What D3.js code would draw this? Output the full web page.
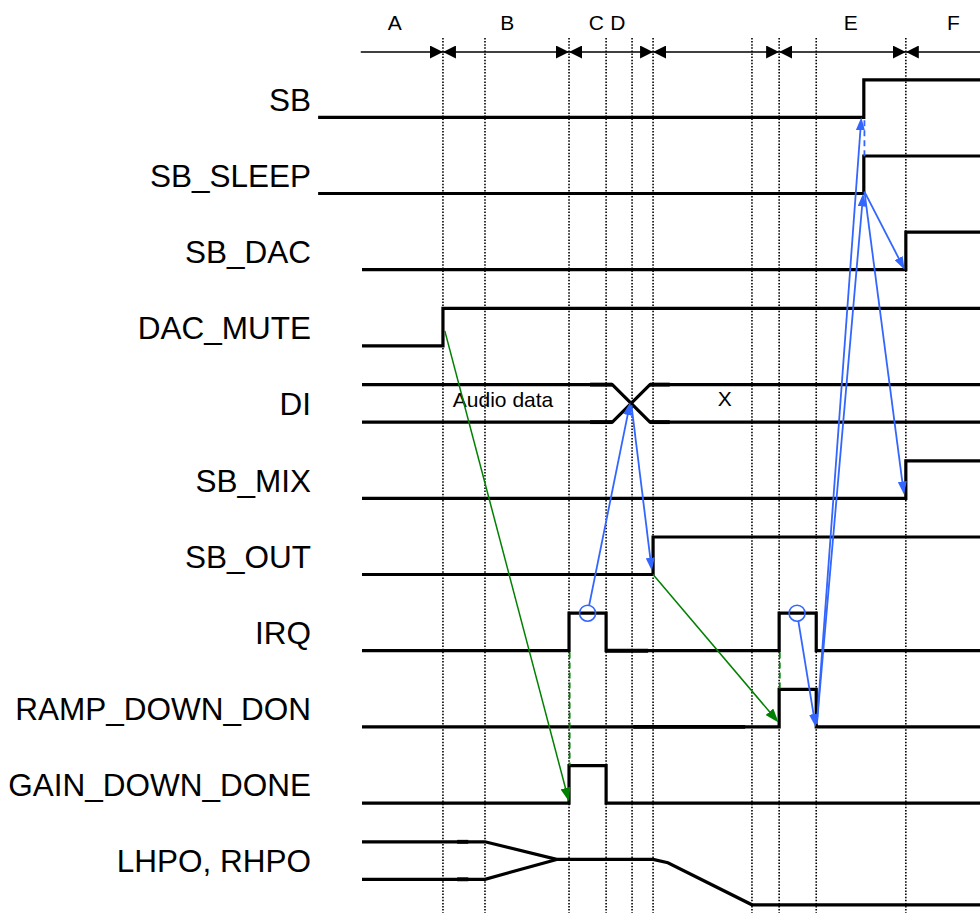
<!DOCTYPE html>
<html><head><meta charset="utf-8">
<script src="https://cdn.jsdelivr.net/npm/d3@7/dist/d3.min.js"></script>
<style>body{margin:0;background:#fff}svg{display:block}</style>
</head><body>
<svg id="c" width="980" height="913"></svg>
<script>
// ---------- data ----------
const signalNames = ["SB","SB_SLEEP","SB_DAC","DAC_MUTE","DI","SB_MIX","SB_OUT","IRQ","RAMP_DOWN_DON","GAIN_DOWN_DONE","LHPO, RHPO"];
// event boundaries (time units) for dotted guides
const edgeTimes = [13.1, 19.9, 33.5, 39.5, 43.7, 47.1, 63.1, 67.5, 73.5, 88.0];
// phase labels at the top
const phaseLabels = ["A","B","C","D","E","F"];
const phaseLabelTimes = [5.3, 23.5, 37.9, 41.4, 79.1, 95.7];
// phase arrows [from, to, headAtStart, headAtEnd]
const phaseSpans = [[-0.2,13.1,0,1],[13.1,33.5,1,1],[33.5,47.1,1,1],[47.1,67.5,1,1],[67.5,88.0,1,1],[88.0,100,1,0]];
// waveforms: [t, level] (level 0 = low, 1 = high)
const waveSB       = [[-7.1,0],[81.2,0],[81.2,1],[100,1]];
const waveSBSleep  = [[-7.1,0],[81.2,0],[81.2,1],[100,1]];
const waveSBDac    = [[0,0],[88.0,0],[88.0,1],[100,1]];
const waveDacMute  = [[0,0],[13.1,0],[13.1,1],[100,1]];
const waveDIa      = [[0,1],[40.5,1],[46.6,0],[100,0]];
const waveDIb      = [[0,0],[40.5,0],[46.6,1],[100,1]];
const waveSBMix    = [[0,0],[88.0,0],[88.0,1],[100,1]];
const waveSBOut    = [[0,0],[47.1,0],[47.1,1],[100,1]];
const waveIRQ      = [[0,0],[33.5,0],[33.5,1],[39.5,1],[39.5,0],[67.5,0],[67.5,1],[73.5,1],[73.5,0],[100,0]];
const waveRamp     = [[0,0],[67.5,0],[67.5,1],[73.5,1],[73.5,0],[100,0]];
const waveGain     = [[0,0],[33.5,0],[33.5,1],[39.5,1],[39.5,0],[100,0]];
const waveHPa      = [[0,1],[19.9,1],[31.5,0.53],[47.1,0.53],[49.5,0.44],[63.1,-0.68],[100,-0.68]];
const waveHPb      = [[0,0],[19.9,0],[31.5,0.53]];
const waves = [[0,waveSB],[1,waveSBSleep],[2,waveSBDac],[3,waveDacMute],[4,waveDIa],[4,waveDIb],
               [5,waveSBMix],[6,waveSBOut],[7,waveIRQ],[8,waveRamp],[9,waveGain],[10,waveHPa],[10,waveHPb]];
// overdrawn (slightly heavier) segments: [signal, t0, t1, level]
const heavySegs = [[4,36.9,40.5,1],[4,36.9,40.5,0],[4,46.6,49.8,1],[4,46.6,49.8,0],[10,15.4,17.2,1],[10,15.4,17.2,0],[7,39.6,46.3,0],[8,43.9,62.0,0]];
// bus texts: [text, t, signal, level, anchor]
const busTexts = [["Audio data",14.7,4,0.4,"start"],["X",58.7,4,0.42,"middle"]];
// green arrows: [fromSig, fromT, fromLevel, toSig, toT, toLevel]
const greenArrows = [[3,13.4,0.4,9,33.5,0.04],[6,47.1,0,8,67.4,0.12]];
const greenDashes = [[7,33.6,-0.05,9,33.6,1],[7,67.6,-0.05,8,67.6,1]];
// blue circles on IRQ: [signal, t, level]
const blueCircles = [[7,36.5,1],[7,70.4,1]];
// blue arrows: [fromSig, fromT, fromLevel, toSig, toT, toLevel, fromCircle]
const blueArrows = [
  [7,36.5,1,4,43.4,0.53,1],
  [4,43.6,0.45,6,46.9,0.1,0],
  [7,70.4,1,8,73.4,0,1],
  [8,73.6,0.08,0,80.8,0.0,0],
  [8,73.6,0.08,1,81.1,0.0,0],
  [1,81.3,0.05,2,87.8,0.0,0],
  [1,81.3,0.05,5,87.7,0.1,0]
];
const blueDashes = [[0,81.3,-0.08,1,81.3,0.98]];

// ---------- scales ----------
const x = d3.scaleLinear().domain([0,100]).range([362,980]);
const rowLow = d3.scaleLinear().domain([0,10]).range([117.3,879.3]);
const lev = d3.scaleLinear().domain([0,1]).range([0,-37.5]);
const labelY = d3.scaleLinear().domain([0,10]).range([110.8,872.3]);
const Y = (s,l) => rowLow(s) + lev(l);

const BLUE = "#3366ff", GREEN = "#008000";
const svg = d3.select("#c");
const defs = svg.append("defs");
function marker(id, color, w, h){
  defs.append("marker").attr("id",id).attr("viewBox",`0 0 ${w} ${h}`)
    .attr("refX",w).attr("refY",h/2).attr("markerWidth",w).attr("markerHeight",h)
    .attr("markerUnits","userSpaceOnUse").attr("orient","auto-start-reverse")
    .append("path").attr("d",`M0,0L${w},${h/2}L0,${h}Z`).attr("fill",color);
}
marker("mk", "#000", 13, 13);
marker("mb", BLUE, 13, 9);
marker("mg", GREEN, 14, 10);

// dotted guides
svg.append("g").selectAll("line").data(edgeTimes).join("line")
  .attr("x1",d=>x(d)).attr("x2",d=>x(d)).attr("y1",38).attr("y2",913)
  .attr("stroke","#000").attr("stroke-width",1.6).attr("stroke-dasharray","1.5 1.6");

// phase arrows
const arrowY = 52;
svg.append("g").selectAll("line").data(phaseSpans).join("line")
  .attr("x1",d=>x(d[0])).attr("x2",d=>x(d[1])).attr("y1",arrowY).attr("y2",arrowY)
  .attr("stroke","#000").attr("stroke-width",1.6)
  .attr("marker-start",d=>d[2]?"url(#mk)":null)
  .attr("marker-end",d=>d[3]?"url(#mk)":null);
svg.append("g").selectAll("text").data(phaseLabels).join("text")
  .attr("x",(d,i)=>x(phaseLabelTimes[i])).attr("y",29.5).attr("text-anchor","middle")
  .attr("font-family","Liberation Sans, Arial, sans-serif").attr("font-size",21).text(d=>d);

// signal labels
svg.append("g").selectAll("text").data(signalNames).join("text")
  .attr("x",311).attr("y",(d,i)=>labelY(i)).attr("text-anchor","end")
  .attr("font-family","Liberation Sans, Arial, sans-serif").attr("font-size",31.5).text(d=>d);

// waveforms
const g = svg.append("g");
waves.forEach(([s,pts])=>{
  g.append("path").attr("d", d3.line().x(d=>x(d[0])).y(d=>Y(s,d[1]))(pts))
    .attr("fill","none").attr("stroke","#000").attr("stroke-width",3.2)
    .attr("stroke-linejoin","miter");
});
g.selectAll("line.h").data(heavySegs).join("line").attr("class","h")
  .attr("x1",d=>x(d[1])).attr("x2",d=>x(d[2])).attr("y1",d=>Y(d[0],d[3])).attr("y2",d=>Y(d[0],d[3]))
  .attr("stroke","#000").attr("stroke-width",3.9);
g.selectAll("text").data(busTexts).join("text")
  .attr("x",d=>x(d[1])).attr("y",d=>Y(d[2],d[3])).attr("text-anchor",d=>d[4])
  .attr("font-family","Liberation Sans, Arial, sans-serif").attr("font-size",21).text(d=>d[0]);

// annotation arrows
function arrow(p0,p1,color,mk,w,shorten,dash){
  const dx=p1[0]-p0[0], dy=p1[1]-p0[1], L=Math.hypot(dx,dy);
  const e=[p1[0]-dx/L*shorten, p1[1]-dy/L*shorten];
  const ln = svg.append("line").attr("x1",p0[0]).attr("y1",p0[1]).attr("x2",mk?e[0]:p1[0]).attr("y2",mk?e[1]:p1[1])
    .attr("stroke",color).attr("stroke-width",w);
  if(dash) ln.attr("stroke-dasharray",dash);
  if(mk){
    svg.append("line").attr("x1",e[0]).attr("y1",e[1]).attr("x2",p1[0]).attr("y2",p1[1])
      .attr("stroke","none").attr("marker-end",`url(#${mk})`);
  }
}
greenDashes.forEach(a=>arrow([x(a[1]),Y(a[0],a[2])],[x(a[4]),Y(a[3],a[5])],GREEN,null,1.8,null,"6 4"));
greenArrows.forEach(a=>arrow([x(a[1]),Y(a[0],a[2])],[x(a[4]),Y(a[3],a[5])],GREEN,"mg",1.5,6));
const R = 8;
svg.append("g").selectAll("circle").data(blueCircles).join("circle")
  .attr("cx",d=>x(d[1])).attr("cy",d=>Y(d[0],d[2])).attr("r",R)
  .attr("fill","none").attr("stroke",BLUE).attr("stroke-width",1.6);
blueDashes.forEach(a=>arrow([x(a[1]),Y(a[0],a[2])],[x(a[4]),Y(a[3],a[5])],BLUE,null,1.8,null,"6 4"));
blueArrows.forEach(a=>{
  let p0=[x(a[1]),Y(a[0],a[2])]; const p1=[x(a[4]),Y(a[3],a[5])];
  if(a[6]){ const dx=p1[0]-p0[0], dy=p1[1]-p0[1], L=Math.hypot(dx,dy); p0=[p0[0]+dx/L*R,p0[1]+dy/L*R]; }
  arrow(p0,p1,BLUE,"mb",1.8,6);
});
</script>
</body></html>
